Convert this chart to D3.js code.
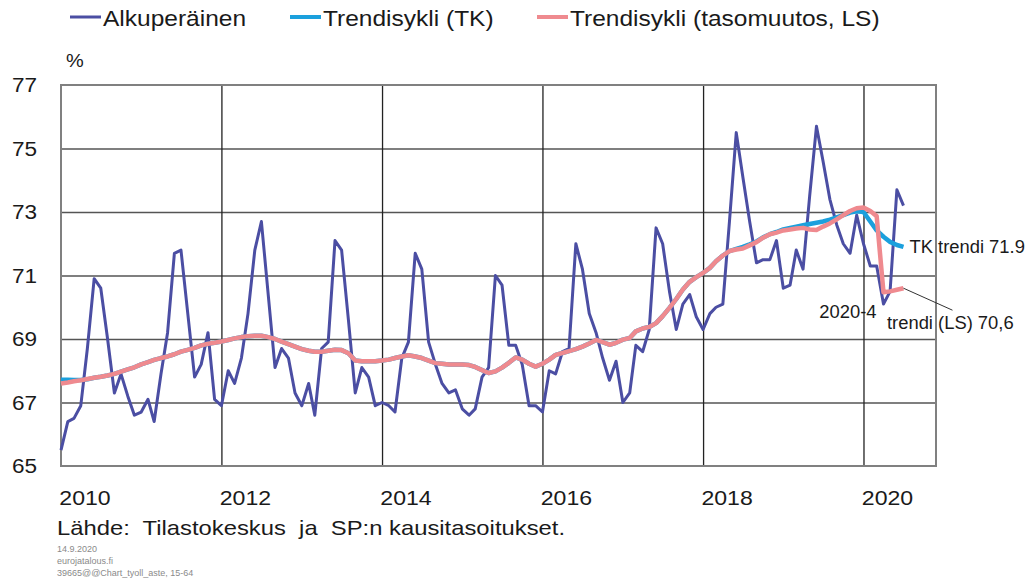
<!DOCTYPE html>
<html>
<head>
<meta charset="utf-8">
<script src="https://cdn.jsdelivr.net/npm/d3@7"></script>
<style>
body { margin: 0; background: #fff; }
svg { display: block; font-family: "Liberation Sans", Arial, sans-serif; }
</style>
</head>
<body>
<svg id="chart" width="1034" height="583"></svg>
<script>
// Employment rate 15-64, monthly Jan 2010 - Jul 2020 (%)
var startYear = 2010;

var original = [
  65.5, 66.4, 66.5, 66.9, 68.7, 70.9, 70.6, 69.0, 67.3, 67.9, 67.2, 66.6,
  66.7, 67.1, 66.4, 67.9, 69.2, 71.7, 71.8, 69.8, 67.8, 68.2, 69.2, 67.1,
  66.9, 68.0, 67.6, 68.4, 69.8, 71.8, 72.7, 70.4, 68.1, 68.7, 68.4, 67.3,
  66.9, 67.6, 66.6, 68.7, 68.9, 72.1, 71.8, 69.6, 67.3, 68.1, 67.8, 66.9,
  67.0, 66.9, 66.7, 68.4, 68.9, 71.7, 71.2, 68.9, 68.2, 67.6, 67.3, 67.4,
  66.8, 66.6, 66.8, 67.8, 68.1, 71.0, 70.7, 68.8, 68.8, 68.2, 66.9, 66.9,
  66.7, 68.0, 67.9, 68.6, 68.7, 72.0, 71.2, 69.8, 69.2, 68.4, 67.7, 68.3,
  67.0, 67.3, 68.8, 68.6, 69.3, 72.5, 72.0, 70.5, 69.3, 70.1, 70.4, 69.7,
  69.3, 69.8, 70.0, 70.1, 72.7, 75.5, 74.1, 72.7, 71.4, 71.5, 71.5, 72.1,
  70.6, 70.7, 71.8, 71.2, 73.5, 75.7, 74.6, 73.4, 72.6, 72.0, 71.7, 72.9,
  72.0, 71.3, 71.3, 70.1, 70.5, 73.7, 73.2
];

var trendTK = [
  67.72, 67.72, 67.71, 67.71, 67.73, 67.78, 67.81, 67.85, 67.90, 67.97, 68.04, 68.11,
  68.20, 68.27, 68.34, 68.40, 68.45, 68.52, 68.60, 68.66, 68.72, 68.80, 68.85, 68.88,
  68.92, 68.97, 69.02, 69.06, 69.09, 69.10, 69.10, 69.06, 69.00, 68.92, 68.84, 68.76,
  68.68, 68.63, 68.60, 68.60, 68.63, 68.66, 68.65, 68.55, 68.32, 68.30, 68.30, 68.30,
  68.32, 68.35, 68.40, 68.45, 68.49, 68.45, 68.40, 68.32, 68.24, 68.22, 68.20, 68.20,
  68.20, 68.18, 68.12, 68.02, 67.93, 67.98, 68.10, 68.25, 68.42, 68.35, 68.22, 68.13,
  68.22, 68.35, 68.50, 68.56, 68.62, 68.68, 68.76, 68.86, 68.97, 68.90, 68.82, 68.88,
  68.98, 69.03, 69.24, 69.33, 69.38, 69.50, 69.72, 69.98, 70.26, 70.56, 70.80, 70.95,
  71.08, 71.24, 71.45, 71.63, 71.77, 71.84, 71.90, 71.98, 72.07, 72.20, 72.30, 72.37,
  72.45, 72.50, 72.54, 72.58, 72.62, 72.66, 72.70, 72.76, 72.83, 72.90, 72.98, 73.02,
  73.00, 72.70, 72.42, 72.22, 72.06, 71.96, 71.90
];

var trendLS = [
  67.60, 67.63, 67.67, 67.70, 67.74, 67.78, 67.81, 67.85, 67.90, 67.97, 68.04, 68.11,
  68.20, 68.27, 68.34, 68.40, 68.45, 68.52, 68.60, 68.66, 68.72, 68.80, 68.85, 68.88,
  68.92, 68.97, 69.02, 69.06, 69.09, 69.10, 69.10, 69.06, 69.00, 68.92, 68.84, 68.76,
  68.68, 68.63, 68.60, 68.60, 68.63, 68.66, 68.65, 68.55, 68.32, 68.30, 68.30, 68.30,
  68.32, 68.35, 68.40, 68.45, 68.49, 68.45, 68.40, 68.32, 68.24, 68.22, 68.20, 68.20,
  68.20, 68.18, 68.12, 68.02, 67.93, 67.98, 68.10, 68.25, 68.42, 68.35, 68.22, 68.13,
  68.22, 68.35, 68.50, 68.56, 68.62, 68.68, 68.76, 68.86, 68.97, 68.90, 68.82, 68.88,
  68.98, 69.03, 69.24, 69.33, 69.38, 69.50, 69.72, 69.98, 70.26, 70.56, 70.80, 70.95,
  71.08, 71.24, 71.45, 71.63, 71.77, 71.82, 71.85, 71.95, 72.05, 72.19, 72.30, 72.35,
  72.42, 72.45, 72.48, 72.50, 72.45, 72.43, 72.54, 72.64, 72.77, 72.90, 73.03, 73.12,
  73.14, 73.03, 72.87, 70.47, 70.50, 70.55, 70.60
];

var yTicks = [65, 67, 69, 71, 73, 75, 77];
var yearTicks = [2010, 2012, 2014, 2016, 2018, 2020];
var legendNames = ["Alkuperäinen", "Trendisykli (TK)", "Trendisykli (tasomuutos, LS)"];
var colors = ["#4b4ea3", "#1ba0dd", "#ef8a8f"];
var sourceText = "Lähde:  Tilastokeskus  ja  SP:n kausitasoitukset.";
var footLines = ["14.9.2020", "eurojatalous.fi", "39665@@Chart_tyoll_aste, 15-64"];

var svg = d3.select("#chart");
var plotLeft = 61, plotRight = 936, plotTop = 85, plotBottom = 466;

var x = d3.scaleTime()
  .domain([new Date(2010, 0, 1), new Date(2020, 10, 26)])
  .range([plotLeft, plotRight]);
var y = d3.scaleLinear().domain([65, 77]).range([plotBottom, plotTop]);

function monthDate(i) { return new Date(startYear, i, 1); }

// stretched text helper (the source chart is slightly wider than normal Arial)
function txt(s, px, py, size, anchor, sx, fill) {
  return svg.append("text")
    .attr("transform", "translate(" + px + "," + py + ") scale(" + sx + ",1)")
    .attr("text-anchor", anchor)
    .style("font-size", size + "px")
    .attr("fill", fill || "#1a1a1a")
    .text(s);
}

// grid lines
svg.append("g")
  .attr("transform", "translate(" + plotLeft + ",0)")
  .call(d3.axisLeft(y).tickValues([67, 69, 71, 73, 75]).tickSize(-(plotRight - plotLeft)).tickFormat(""))
  .call(function(g) {
    g.select(".domain").remove();
    g.selectAll("line").attr("stroke", "#555").attr("stroke-width", 1.5);
  });

svg.append("g")
  .attr("transform", "translate(0," + plotBottom + ")")
  .call(d3.axisBottom(x).tickValues([2012, 2014, 2016, 2018, 2020].map(function(yr) { return new Date(yr, 0, 1); }))
    .tickSize(-(plotBottom - plotTop)).tickFormat(""))
  .call(function(g) {
    g.select(".domain").remove();
    g.selectAll("line").attr("stroke", "#222").attr("stroke-width", 1.3);
  });

// frame
svg.append("rect")
  .attr("x", plotLeft).attr("y", plotTop)
  .attr("width", plotRight - plotLeft).attr("height", plotBottom - plotTop)
  .attr("fill", "none").attr("stroke", "#808080").attr("stroke-width", 2);

// y labels
yTicks.forEach(function(t) {
  txt(t, 37, y(t) + 7, 20.5, "end", 1.1);
});
txt("%", 66, 67, 19, "start", 1.05);

// x labels
yearTicks.forEach(function(yr) {
  txt(yr, x(new Date(yr, 0, 1)) + 24, 505, 21, "middle", 1.1);
});

// series
var line = d3.line()
  .x(function(d, i) { return x(monthDate(i)); })
  .y(function(d) { return y(d); })
  .curve(d3.curveLinear);

svg.append("path").datum(original)
  .attr("d", line).attr("fill", "none")
  .attr("stroke", colors[0]).attr("stroke-width", 3).attr("stroke-linejoin", "round");
svg.append("path").datum(trendTK)
  .attr("d", line).attr("fill", "none")
  .attr("stroke", colors[1]).attr("stroke-width", 4.5).attr("stroke-linejoin", "round");
svg.append("path").datum(trendLS)
  .attr("d", line).attr("fill", "none")
  .attr("stroke", colors[2]).attr("stroke-width", 4.5).attr("stroke-linejoin", "round");

// legend
var legX = [70, 290, 537];
legendNames.forEach(function(n, i) {
  svg.append("line")
    .attr("x1", legX[i]).attr("x2", legX[i] + 31)
    .attr("y1", 17).attr("y2", 17)
    .attr("stroke", colors[i]).attr("stroke-width", i === 0 ? 3 : 4);
  txt(n, legX[i] + 33, 26, 21.5, "start", 1.14);
});

// annotations
var last = trendTK.length - 1;
var xLast = x(monthDate(last));
txt("TK trendi " + trendTK[last].toFixed(1), xLast + 6, y(trendTK[last]) + 6, 17.5, "start", 1.05);
var xApr = x(monthDate(123));
txt("2020-4", xApr - 7, y(original[123]) + 14, 17.5, "end", 1.05);
txt("trendi (LS) " + String(trendLS[last].toFixed(1)).replace(".", ","), 887, y(trendLS[last]) + 41, 17.5, "start", 1.05);
svg.append("line")
  .attr("x1", xLast).attr("y1", y(trendLS[last]))
  .attr("x2", xLast + 49).attr("y2", y(trendLS[last]) + 22)
  .attr("stroke", "#333").attr("stroke-width", 1);

// source + footnote
svg.append("text")
  .attr("x", 57).attr("y", 535)
  .attr("textLength", 508).attr("lengthAdjust", "spacingAndGlyphs")
  .style("font-size", "21px").style("white-space", "pre").attr("fill", "#1a1a1a")
  .text(sourceText);
footLines.forEach(function(s, i) {
  svg.append("text")
    .attr("x", 57).attr("y", 552 + i * 12)
    .style("font-size", "9px").attr("fill", "#8a8a8a")
    .text(s);
});
</script>
</body>
</html>
